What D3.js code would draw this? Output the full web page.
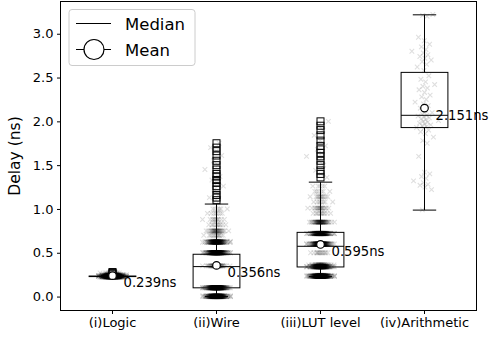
<!DOCTYPE html>
<html><head><meta charset="utf-8">
<script src="https://cdn.jsdelivr.net/npm/d3@7"></script>
<style>body{margin:0;background:#fff}svg{display:block}text{font-family:"DejaVu Sans",sans-serif}</style>
</head><body><svg id="c" width="495" height="339"></svg>
<script>
const categories = ["(i)Logic", "(ii)Wire", "(iii)LUT level", "(iv)Arithmetic"];
const yTicks = [0.0, 0.5, 1.0, 1.5, 2.0, 2.5, 3.0];
// box statistics
const q1 = [0.228, 0.100, 0.338, 1.929];
const medians = [0.230, 0.342, 0.574, 2.069];
const q3 = [0.234, 0.483, 0.733, 2.559];
const whiskLo = [0.222, 0.000, 0.228, 0.987];
const whiskHi = [0.240, 1.056, 1.306, 3.216];
const means = [0.239, 0.356, 0.595, 2.151];
const meanLabels = ["0.239ns", "0.356ns", "0.595ns", "2.151ns"];
// fliers
const logicFliers = [0.26, 0.27, 0.28];
const wireFliers = [1.10, 1.13, 1.16, 1.22, 1.26, 1.30, 1.33, 1.37, 1.40, 1.45, 1.50, 1.55, 1.61, 1.66, 1.70, 1.75];
const lutFliers = [1.36, 1.40, 1.44, 1.50, 1.55, 1.60, 1.64, 1.68, 1.72, 1.78, 1.84, 1.90, 1.95, 2.00];
// scatter samples: repeated levels and counts
const logicLevels = [0.22, 0.23, 0.24, 0.25, 0.27];
const logicCounts = [100, 320, 170, 70, 15];
const wireLevels = [0.00, 0.01, 0.10, 0.35, 0.50, 0.62, 0.63, 0.70, 0.75, 0.82, 0.88, 0.95, 1.00];
const wireCounts = [200, 80, 260, 60, 260, 120, 60, 15, 35, 12, 12, 8, 6];
const lutLevels = [0.23, 0.24, 0.34, 0.36, 0.50, 0.60, 0.72, 0.85, 0.95, 1.01, 1.08, 1.14, 1.20, 1.26];
const lutCounts = [200, 100, 200, 50, 15, 200, 200, 70, 12, 20, 8, 12, 6, 5];
const arithValues = [0.99, 1.22, 1.25, 1.27, 1.28, 1.30, 1.32, 1.35, 1.37, 1.40, 1.42, 1.60, 1.75, 1.78, 1.82, 1.86, 1.88, 1.90, 1.92, 1.93, 1.94, 1.95, 1.96, 1.97, 1.98, 1.99, 2.00, 2.01, 2.02, 2.03, 2.04, 2.05, 2.06, 2.07, 2.08, 2.10, 2.12, 2.15, 2.18, 2.20, 2.22, 2.25, 2.28, 2.30, 2.33, 2.36, 2.38, 2.40, 2.42, 2.45, 2.48, 2.52, 2.58, 2.62, 2.65, 2.68, 2.70, 2.72, 2.74, 2.76, 2.78, 2.80, 2.82, 2.85, 2.88, 2.92, 2.96, 3.20, 3.21, 3.22];

const svg = d3.select("#c");
const L = 60.5, R = 476.5, T = 1.5, B = 310.5;
const x = d3.scaleBand().domain(categories).range([L, R]).padding(0);
const cx = c => x(c) + x.bandwidth() / 2;
const y = d3.scaleLinear().domain([-0.159, 3.368]).range([B, T]);
const boxW = 0.45 * x.bandwidth(), capW = boxW / 2;

function expand(levels, counts) { const out = []; levels.forEach((v, i) => { for (let k = 0; k < counts[i]; k++) out.push(v); }); return out; }
const samples = [
  expand(logicLevels, logicCounts).concat(logicFliers),
  expand(wireLevels, wireCounts).concat(wireFliers),
  expand(lutLevels, lutCounts).concat(lutFliers),
  arithValues
];
const fliers = [logicFliers, wireFliers, lutFliers, []];
// deterministic low-discrepancy jitter (golden-ratio sequence -> approx normal)
function jit(i) {
  let u = (i * 0.6180339887 + 0.31) % 1;
  u = Math.min(Math.max(u, 0.004), 0.996);
  let z = 0.5513 * Math.log(u / (1 - u));
  return Math.max(-2.8, Math.min(2.8, z));
}
const sd = 0.048 * x.bandwidth();
const pts = [];
samples.forEach((arr, ci) => arr.forEach((v, i) => pts.push({ c: categories[ci], v, i })));
svg.append("g").selectAll("path").data(pts).join("path")
  .attr("transform", d => `translate(${cx(d.c) + jit(d.i) * sd},${y(d.v)})`)
  .attr("d", "M-2.3,-2.3L2.3,2.3M-2.3,2.3L2.3,-2.3")
  .attr("stroke", "#000").attr("stroke-opacity", 0.13).attr("stroke-width", 1.1).attr("fill", "none");

const g = svg.append("g").attr("stroke", "#000").attr("fill", "none").attr("stroke-width", 1);
categories.forEach((c, i) => {
  const X = cx(c);
  g.append("line").attr("x1", X).attr("x2", X).attr("y1", y(q3[i])).attr("y2", y(whiskHi[i]));
  g.append("line").attr("x1", X).attr("x2", X).attr("y1", y(q1[i])).attr("y2", y(whiskLo[i]));
  g.append("line").attr("x1", X - capW / 2).attr("x2", X + capW / 2).attr("y1", y(whiskHi[i])).attr("y2", y(whiskHi[i]));
  g.append("line").attr("x1", X - capW / 2).attr("x2", X + capW / 2).attr("y1", y(whiskLo[i])).attr("y2", y(whiskLo[i]));
  g.append("rect").attr("x", X - boxW / 2).attr("width", boxW).attr("y", y(q3[i])).attr("height", Math.max(0.5, y(q1[i]) - y(q3[i])));
  g.append("line").attr("x1", X - boxW / 2).attr("x2", X + boxW / 2).attr("y1", y(medians[i])).attr("y2", y(medians[i]));
  fliers[i].forEach(v => g.append("rect").attr("x", X - 3.5).attr("y", y(v) - 3.5).attr("width", 7).attr("height", 7));
  g.append("circle").attr("cx", X).attr("cy", y(means[i])).attr("r", 3.8).attr("fill", "#fff").attr("stroke-width", 1.2);
  svg.append("text").attr("x", X + 11).attr("y", y(means[i]) + 1).attr("dy", "0.8em")
    .attr("font-size", 13.2).attr("fill", "#000").text(meanLabels[i]);
});

const ya = svg.append("g").attr("transform", `translate(${L},0)`)
  .call(d3.axisLeft(y).tickValues(yTicks).tickFormat(d3.format(".1f")).tickSize(3.5).tickPadding(3.5));
const xa = svg.append("g").attr("transform", `translate(0,${B})`)
  .call(d3.axisBottom(x).tickSize(3.5).tickPadding(3.5));
[ya, xa].forEach(a => { a.select(".domain").remove(); a.selectAll("text").attr("font-size", 13).attr("font-family", "DejaVu Sans").attr("fill", "#000"); a.selectAll("line").attr("stroke", "#000"); });
svg.append("rect").attr("x", L).attr("y", T).attr("width", R - L).attr("height", B - T).attr("fill", "none").attr("stroke", "#000").attr("stroke-width", 1);
svg.append("text").attr("transform", `translate(20,${(T + B) / 2}) rotate(-90)`).attr("text-anchor", "middle")
  .attr("font-size", 15.5).text("Delay (ns)");

const lg = svg.append("g");
lg.append("rect").attr("x", 69).attr("y", 9.5).attr("width", 126).attr("height", 56).attr("rx", 3)
  .attr("fill", "#fff").attr("fill-opacity", 0.8).attr("stroke", "#ccc");
lg.append("line").attr("x1", 76).attr("x2", 111).attr("y1", 23.5).attr("y2", 23.5).attr("stroke", "#000").attr("stroke-width", 1);
lg.append("line").attr("x1", 76).attr("x2", 111).attr("y1", 49.5).attr("y2", 49.5).attr("stroke", "#000").attr("stroke-width", 1);
lg.append("circle").attr("cx", 94).attr("cy", 49.5).attr("r", 10).attr("fill", "#fff").attr("stroke", "#000").attr("stroke-width", 1.2);
lg.append("text").attr("x", 125).attr("y", 29.5).attr("font-size", 16.5).text("Median");
lg.append("text").attr("x", 125).attr("y", 55.5).attr("font-size", 16.5).text("Mean");
</script></body></html>
